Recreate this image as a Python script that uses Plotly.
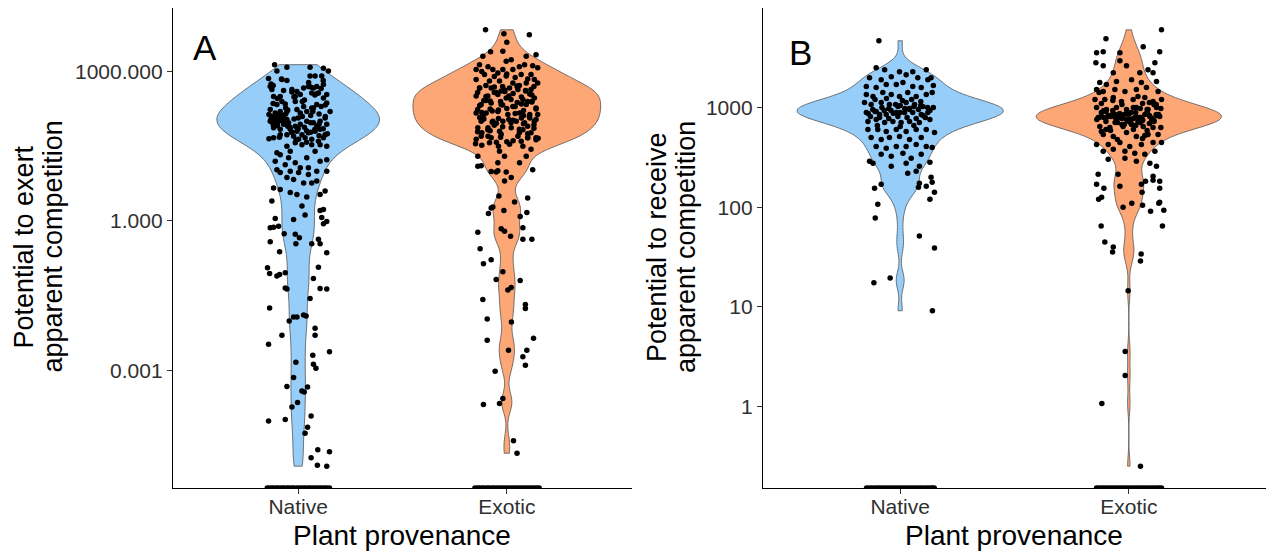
import numpy as np
import plotly.graph_objects as go

W, H = 1271, 551
FONT = "Liberation Sans, Arial, Helvetica, sans-serif"

categories = ["Native", "Exotic"]
native_fill = "#96CDF9"
exotic_fill = "#FDA676"

exert_tick_values = [0.001, 1, 1000]
exert_tick_labels = ["0.001", "1.000", "1000.000"]
receive_tick_values = [1, 10, 100, 1000]
receive_tick_labels = ["1", "10", "100", "1000"]

# ---- Panel A: potential to exert apparent competition (log10 scale) ----
exert_native_log10 = [
    3.14, 3.09, 3.09, 3.07, 3.01,
    3.01, 2.86, 2.84, 2.82, 2.91, 2.91, 2.91,
    2.70, 2.64, 2.64, 2.60, 2.67, 2.70, 2.67, 2.70, 2.74,
    2.50, 2.50, 2.50, 2.54, 2.57, 2.57, 2.54, 2.47,
    2.34, 2.40, 2.35, 2.40, 2.30, 2.27, 2.34, 2.37,
    2.20, 2.24, 2.17, 2.20, 2.20, 2.24, 2.20, 2.27,
    2.10, 2.14, 2.07, 2.10, 2.04, 2.00, 1.97, 2.00,
    1.94, 1.97, 1.87, 1.84, 1.84, 1.90, 1.94, 2.00,
    1.97, 2.00, 2.07, 1.94, 1.80, 1.73, 1.77, 1.80,
    1.84, 1.73, 1.73, 1.73, 1.70, 1.64, 1.67, 1.64,
    1.60, 1.67, 1.67, 1.50, 1.57, 1.53, 1.53, 1.53,
    1.50, 1.40, 1.37, 1.40, 1.33, 1.27, 1.27, 1.20,
    1.23, 1.20, 1.13, 1.17, 1.07, 1.07, 1.00, 1.00,
    1.03, 0.97, 1.00, 0.97, 0.93, 0.87, 0.83, 0.76,
    0.76, 0.80, 0.66, 0.63, 0.57, 0.53, 0.48, 0.53,
    0.60, 0.40,
    2.05, 1.98, 1.92, 2.12, 2.15, 2.02, 2.08, 1.99, 1.90, 1.93,
    1.78, 1.85, 1.88, 1.78, 1.90, 1.85, 2.05, 2.10, 2.12, 2.15,
    2.85, 2.78, 2.72, 2.66, 2.59, 2.53, 2.46, 2.40, 2.33, 2.27,
    2.20, 2.14, 2.07, 2.01, 1.94, 1.88, 1.81, 1.75, 1.68, 1.62,
    2.82, 2.75, 2.69, 2.62, 2.56, 2.49, 2.43, 2.36, 2.30, 2.23,
    2.17, 2.10, 2.04, 1.97, 1.91, 1.84, 1.78, 1.71, 1.65, 1.58,
    0.30, 0.12, 0.21, 0.23,
    0.07, -0.01, -0.06, 0.05,
    -0.14, -0.13, -0.11, 0.03,
    -0.26, -0.27, -0.34, -0.46,
    -0.42, -0.46, -0.37, -0.46,
    -0.64, -0.62,
    -0.94, -1.06, -1.11, -1.08, -1.04, -0.93, -1.16,
    -1.35, -1.37, -1.36, -1.37,
    -1.56, -1.75,
    -1.93, -1.93, -1.89, -1.91, -2.01,
    -2.16, -2.30, -2.30, -2.48,
    -2.63,
    -2.70, -2.84, -2.88, -2.96,
    -3.15, -3.33, -3.34, -3.42, -3.44,
    -3.65, -3.74, -3.92, -4.02, -3.99,
    -4.15, -4.27, -4.60, -4.64,
    -4.76, -4.91, -4.93,
]
exert_native_jitter = [
    -0.113, -0.054, 0.057, 0.121, 0.145,
    -0.102, -0.142, -0.078, -0.054, 0.057, 0.081, 0.113,
    -0.134, -0.126, -0.030, -0.006, 0.026, 0.049, 0.073, 0.089, 0.121,
    -0.118, -0.086, -0.014, 0.010, 0.065, 0.097, 0.137, 0.121,
    -0.102, -0.078, -0.062, -0.014, 0.026, 0.065, 0.089, 0.137,
    0.153, -0.134, -0.110, -0.086, -0.054, -0.006, 0.041, 0.073,
    -0.126, -0.102, -0.086, -0.070, -0.054, -0.134, -0.110, -0.094,
    -0.070, -0.046, -0.118, -0.086, -0.038, -0.014, 0.010, 0.041,
    0.073, 0.105, 0.129, 0.137, -0.006, 0.018, 0.049, 0.081,
    0.105, 0.129, -0.086, -0.054, -0.022, 0.002, 0.033, 0.065,
    0.097, 0.121, -0.118, -0.054, -0.014, 0.018, 0.065, 0.105,
    0.137, -0.038, -0.102, 0.081, -0.086, -0.046, 0.041, 0.105,
    0.137, -0.110, -0.062, -0.014, 0.010, 0.049, 0.089, 0.137,
    -0.102, -0.086, -0.038, 0.002, 0.049, -0.054, -0.022, 0.026,
    0.065, 0.089, -0.118, -0.086, -0.038, -0.006, 0.041, 0.105,
    0.129, -0.126,
    -0.130, -0.120, -0.100, -0.080, -0.060, -0.090, -0.110, -0.070, -0.050, -0.120,
    -0.030, 0.000, 0.030, 0.060, 0.090, 0.120, -0.020, 0.020, 0.060, 0.100,
    -0.080, 0.050, -0.120, 0.110, -0.030, 0.080, -0.100, 0.020, 0.130, -0.060,
    0.070, -0.140, 0.000, -0.110, 0.100, -0.040, 0.040, 0.140, -0.090, -0.010,
    0.120, -0.130, 0.060, -0.070, 0.090, -0.020, 0.030, -0.120, 0.110, -0.050,
    0.010, 0.130, -0.080, 0.060, -0.100, 0.080, -0.030, 0.100, -0.140, 0.040,
    0.018, 0.033, 0.105, 0.121,
    0.113, 0.137, 0.121, -0.110,
    -0.134, -0.118, -0.094, -0.022,
    -0.067, -0.014, 0.006, -0.011,
    -0.134, 0.065, 0.097, 0.105,
    0.137, -0.089,
    -0.147, -0.137, -0.102, -0.089, -0.062, 0.097, 0.073,
    -0.062, -0.054, 0.105, 0.137,
    0.057, -0.137,
    -0.022, -0.006, 0.026, 0.038, -0.043,
    0.081, 0.081, -0.078, -0.142,
    0.150,
    0.070, -0.011, 0.073, 0.085,
    -0.022, -0.054, 0.045, 0.018, 0.029,
    -0.003, -0.030, 0.062, -0.142, -0.062,
    0.045, 0.033, 0.094, 0.150,
    0.062, 0.092, 0.137,
]
# species scoring zero (drawn on the lower edge of the panel)
exert_native_zero_jitter = [-0.148, -0.139, -0.127, -0.118, -0.106, -0.097, -0.085,
                            -0.074, -0.066, -0.053, -0.044, -0.031, -0.022, -0.009,
                            0.003, 0.014, 0.026, 0.035, 0.048, 0.057, 0.069,
                            0.080, 0.091, 0.103, 0.114, 0.126, 0.137, 0.150]

exert_exotic_log10 = [
    3.84, 3.76, 3.74, 3.59,
    3.41, 3.40, 3.31, 3.31, 3.34,
    3.21, 3.24, 3.14, 3.04, 3.04, 3.04, 3.04, 3.14,
    3.12, 3.08, 2.94, 2.97, 2.91, 2.94, 2.94, 2.84,
    2.84, 2.81, 2.81, 2.77, 2.77, 2.77,
    2.67, 2.67, 2.61, 2.67, 2.64, 2.64,
    2.51, 2.51, 2.54, 2.47, 2.44, 2.47,
    2.34, 2.37, 2.34, 2.30, 2.34, 2.27,
    2.17, 2.17, 2.20, 2.14, 2.17, 2.10, 2.14,
    2.00, 2.00, 2.00, 2.00, 1.97, 2.00,
    1.87, 1.83, 1.80, 1.87, 1.83, 1.77,
    1.70, 1.67, 1.74, 1.70, 1.67, 1.67,
    1.64, 1.57, 1.54, 1.60, 1.30, 1.40, 1.30, 1.50, 1.44, 1.30,
    1.17, 1.17,
    3.00, 2.90, 2.88, 2.85, 2.72, 2.70, 2.72, 2.70, 2.58, 2.58, 2.56, 2.55, 2.42, 2.40,
    2.38, 2.40, 2.25, 2.26, 2.22, 2.08, 2.06, 2.07, 2.04, 1.92, 1.90, 2.95, 3.10, 3.10,
    1.52, 1.58, 1.61, 1.67, 1.70, 1.77, 1.79, 1.86, 1.89, 1.95,
    1.98, 2.04, 2.07, 2.14, 2.16, 2.23, 2.25, 2.32, 2.35, 2.41,
    2.44, 2.50, 2.53, 2.60, 2.62, 2.69, 2.71, 1.55, 1.59, 1.66,
    1.68, 1.75, 1.77, 1.84, 1.87, 1.93, 1.96, 2.02, 2.05, 2.12,
    2.14, 2.21, 2.24, 2.30, 2.33, 2.39, 2.42, 2.49, 2.51, 2.58,
    2.61, 2.67, 2.70, 1.50, 1.63, 1.81, 1.97, 2.18, 2.40, 2.63,
    1.10, 1.11, 0.99, 1.01, 0.98, 0.98,
    0.87, 0.80, 1.03, 0.50, 0.38, 0.46,
    0.26, 0.28, 0.21, 0.15, 0.17, 0.09,
    -0.16, -0.21, -0.31, -0.23, -0.14, -0.37, -0.37,
    -0.56, -0.78, -0.86, -1.02, -1.18, -1.20,
    -1.39, -1.34, -1.58, -1.68, -1.76, -1.97, -2.03,
    -2.40, -2.36, -2.60, -2.60, -2.73, -2.90,
    -3.02, -3.57, -3.67, -3.69, -4.42, -4.67,
]
exert_exotic_jitter = [
    -0.102, -0.014, 0.108, 0.000,
    -0.019, -0.078, -0.115, 0.093, 0.140,
    -0.003, 0.021, -0.131, -0.147, -0.067, -0.019, 0.029, 0.085,
    0.124, 0.148, -0.107, -0.043, -0.003, 0.069, 0.116, 0.132,
    -0.147, -0.083, -0.035, 0.029, 0.093, 0.148,
    -0.131, -0.075, -0.027, 0.013, 0.053, 0.116,
    -0.147, -0.091, -0.043, -0.003, 0.077, 0.132,
    -0.123, -0.075, -0.027, 0.029, 0.093, 0.140,
    -0.147, -0.099, -0.043, 0.005, 0.061, 0.108, 0.148,
    -0.123, -0.067, -0.019, 0.045, 0.085, 0.132,
    -0.139, -0.091, -0.035, 0.021, 0.077, 0.116,
    -0.123, -0.075, -0.027, 0.053, 0.100, 0.140,
    -0.147, -0.083, 0.013, 0.069, -0.139, -0.035, -0.011, 0.077, 0.116, 0.093,
    -0.043, 0.061,
    -0.120, -0.060, 0.040, 0.100, -0.100, -0.020, 0.060, 0.130, -0.140, -0.050, 0.030, 0.110, -0.110, -0.030,
    0.050, 0.120, -0.080, 0.000, 0.080, -0.130, -0.040, 0.070, 0.140, -0.060, 0.100, 0.000, -0.090, 0.060,
    -0.120, -0.050, 0.030, 0.100, -0.090, 0.060, -0.140, 0.130, -0.020, 0.080,
    -0.070, 0.010, 0.110, -0.110, 0.040, -0.040, 0.140, -0.130, 0.070, -0.080,
    0.020, -0.100, 0.120, -0.010, 0.090, -0.060, 0.050, -0.150, 0.000, 0.150,
    -0.030, 0.100, -0.120, 0.060, -0.090, 0.130, -0.050, 0.030, -0.110, 0.080,
    0.110, -0.070, -0.140, 0.040, -0.020, 0.120, -0.100, 0.070, 0.010, -0.060,
    0.090, -0.130, 0.050, -0.040, 0.140, -0.080, 0.020, -0.120, 0.100, -0.010,
    -0.139, -0.123, -0.075, -0.043, -0.051, -0.003,
    0.021, -0.011, 0.124, -0.038, 0.037, 0.100,
    -0.075, -0.067, -0.014, -0.088, 0.096, 0.064,
    -0.027, -0.011, 0.018, -0.139, 0.077, 0.077, 0.120,
    -0.128, -0.075, -0.112, -0.019, -0.051, 0.064,
    0.005, 0.021, -0.115, 0.089, 0.089, -0.094, 0.022,
    -0.094, 0.128, 0.008, 0.096, 0.077, 0.089,
    -0.056, -0.019, -0.035, -0.112, 0.032, 0.049,
]
exert_exotic_zero_jitter = [-0.153, -0.141, -0.131, -0.119, -0.108, -0.095, -0.086,
                            -0.073, -0.062, -0.051, -0.040, -0.028, -0.017, -0.005,
                            0.006, 0.018, 0.029, 0.041, 0.052, 0.064, 0.075,
                            0.087, 0.098, 0.110, 0.121, 0.133, 0.144, 0.155]

# ---- Panel B: potential to receive apparent competition (log10 scale) ----
receive_native_log10 = [
    3.67,
    3.40, 3.38, 3.36, 3.36, 3.38,
    3.30, 3.28, 3.31, 3.33, 3.30, 3.28,
    3.21, 3.20, 3.23, 3.23, 3.25, 3.21, 3.20,
    3.13, 3.11, 3.15, 3.13, 3.11, 3.15, 3.11, 3.13,
    3.05, 3.03, 3.05, 3.03, 3.01, 3.05, 3.03, 3.01,
    2.95, 2.96, 2.93, 2.95, 2.95, 2.95, 2.93, 2.95,
    2.86, 2.88, 2.85, 2.86, 2.85, 2.86, 2.85,
    2.78, 2.78, 2.76, 2.78, 2.76, 2.78, 2.78,
    2.70, 2.68, 2.70, 2.71, 2.68, 2.70,
    2.61, 2.59, 2.61, 2.61, 2.63, 2.61,
    2.46, 2.53, 2.51, 2.54, 2.49, 2.53,
    2.44, 2.41, 2.44, 2.41, 2.34, 2.36,
    2.23, 2.19, 2.24, 2.21,
    3.30, 3.15, 3.00, 2.88, 2.75, 2.60, 2.45, 3.22, 2.30,
    2.98, 3.00, 2.97, 3.02, 2.99, 2.98, 2.91, 2.90, 2.89, 2.91, 2.90,
    2.89, 2.90, 3.08, 3.09, 3.07, 3.08, 3.06, 2.82, 2.81, 2.82,
    2.97, 2.94, 2.99, 3.01, 2.92, 2.96, 3.03, 2.98, 2.93, 3.00, 2.95, 2.99, 3.02, 2.97, 2.94,
    2.03, 1.89, 1.24, 1.29, 1.71, 2.20,
    0.96, 1.59, 2.25, 2.15, 2.08,
]
receive_native_jitter = [
    -0.093,
    -0.105, -0.068, -0.003, 0.055, 0.114,
    -0.134, -0.083, -0.039, 0.026, 0.077, 0.121,
    -0.148, -0.105, -0.061, -0.017, 0.012, 0.055, 0.092,
    -0.148, -0.119, -0.076, -0.039, -0.003, 0.033, 0.070, 0.114,
    -0.156, -0.127, -0.083, -0.047, -0.010, 0.026, 0.063, 0.099,
    -0.148, -0.105, -0.061, -0.017, 0.019, 0.055, 0.092, 0.121,
    -0.141, -0.105, -0.068, -0.032, 0.004, 0.041, 0.084,
    -0.141, -0.098, -0.061, -0.017, 0.026, 0.070, 0.114,
    -0.127, -0.083, -0.047, -0.003, 0.041, 0.092,
    -0.105, -0.061, -0.017, 0.026, 0.070, 0.114,
    -0.134, -0.083, -0.039, 0.012, 0.048, 0.092,
    -0.119, -0.039, 0.026, 0.084, 0.033, 0.070,
    -0.083, -0.112, 0.084, 0.114,
    0.135, 0.140, 0.145, 0.130, 0.150, 0.140, 0.130, 0.145, 0.135,
    -0.120, -0.080, -0.040, 0.000, 0.040, 0.080, -0.130, -0.090, -0.050, -0.010, 0.030,
    0.070, 0.110, -0.110, -0.060, 0.010, 0.050, 0.090, -0.100, 0.000, 0.060,
    -0.070, -0.030, 0.020, 0.060, 0.100, -0.110, -0.020, 0.040, -0.090, 0.120, 0.000, -0.050, 0.090, 0.130, -0.140,
    -0.098, -0.109, -0.115, -0.044, 0.084, 0.080,
    0.141, 0.150, 0.140, 0.150, 0.130,
]
receive_native_zero_jitter = [-0.147, -0.136, -0.124, -0.113, -0.101, -0.092, -0.080,
                              -0.069, -0.058, -0.046, -0.035, -0.024, -0.013, -0.002,
                              0.009, 0.021, 0.032, 0.043, 0.054, 0.066, 0.077,
                              0.088, 0.099, 0.111, 0.122, 0.133, 0.141, 0.149]

receive_exotic_log10 = [
    3.78, 3.69, 3.61, 3.56, 3.55, 3.56, 3.55,
    3.45, 3.42, 3.47, 3.45, 3.38, 3.35, 3.42, 3.35, 3.35,
    3.25, 3.23, 3.26, 3.28, 3.25, 3.26,
    3.18, 3.16, 3.18, 3.16, 3.18, 3.20, 3.16,
    3.08, 3.08, 3.10, 3.06, 3.08, 3.10, 3.06, 3.08,
    3.00, 2.98, 3.00, 2.98, 3.00, 2.98, 3.00,
    2.90, 2.91, 2.90, 2.88, 2.90, 2.91, 2.91,
    2.81, 2.80, 2.81, 2.83, 2.81, 2.80,
    2.73, 2.71, 2.75, 2.71, 2.73, 2.73,
    2.63, 2.63, 2.65, 2.61, 2.63, 2.65, 2.65,
    2.56, 2.58, 2.56, 2.54, 2.53, 2.56,
    2.48, 2.49, 2.46, 2.44, 2.41,
    2.33, 2.33, 2.31, 2.23, 2.21, 2.23, 2.26,
    2.95, 2.94, 2.93, 2.95, 2.94, 2.93, 2.86, 2.85, 2.86, 2.85,
    2.86, 3.04, 3.03, 3.04, 3.03, 2.77, 2.78, 2.77, 2.68, 2.69,
    2.92, 2.90, 2.89, 2.93, 2.91, 2.88, 2.92, 2.90, 2.87, 2.94,
    2.89, 2.91, 2.93, 2.88, 2.90, 2.86, 2.95, 2.92, 2.89, 2.84,
    2.97, 2.99, 2.83, 2.82, 2.96, 2.87, 2.93, 2.91, 2.85, 2.98,
    2.72, 2.76, 2.80, 2.83, 2.86, 2.88, 2.90, 2.91, 2.92, 2.93,
    2.95, 2.97, 3.00, 3.03, 3.07, 3.11, 3.15, 2.89, 2.94, 2.87,
    2.78, 2.99, 2.91, 3.05, 2.84,
    2.19, 2.15, 2.26, 2.27, 2.19,
    2.08, 2.10, 2.00, 2.04, 2.02, 1.96, 2.04, 2.05, 1.97,
    1.81, 1.81, 1.65, 1.60, 1.55, 1.53, 1.46, 1.16,
    0.55, 0.31, 0.03, -0.60,
]
receive_exotic_jitter = [
    0.143, -0.100, 0.063, 0.135, -0.141, -0.112, -0.039,
    -0.144, -0.112, -0.039, 0.114, 0.084, -0.068, -0.010, 0.048, 0.106,
    -0.127, -0.098, -0.054, 0.012, 0.055, 0.121,
    -0.141, -0.112, -0.061, -0.017, 0.033, 0.077, 0.128,
    -0.148, -0.105, -0.068, -0.032, 0.019, 0.070, 0.106, 0.143,
    -0.141, -0.098, -0.054, -0.010, 0.033, 0.084, 0.121,
    -0.134, -0.090, -0.039, 0.004, 0.048, 0.092, 0.135,
    -0.127, -0.083, -0.025, 0.012, 0.063, 0.106,
    -0.112, -0.068, -0.010, 0.033, 0.084, 0.128,
    -0.141, -0.090, -0.039, 0.004, 0.055, 0.106, 0.143,
    -0.112, -0.068, -0.017, 0.026, 0.070, 0.114,
    -0.090, -0.017, 0.033, 0.092, 0.121,
    -0.134, -0.047, 0.106, -0.141, -0.039, 0.055, 0.135,
    -0.120, -0.070, -0.020, 0.030, 0.080, 0.120, -0.100, -0.050, 0.000, 0.050,
    0.100, -0.120, -0.030, 0.060, 0.110, -0.080, 0.020, 0.080, -0.050, 0.060,
    -0.090, -0.060, -0.030, 0.000, 0.030, 0.060, 0.090, -0.110, 0.110, -0.040,
    0.020, -0.080, 0.070, -0.010, -0.130, 0.040, 0.010, 0.120, -0.050, 0.090,
    -0.070, 0.050, -0.020, 0.030, -0.100, 0.100, 0.130, -0.120, -0.060, 0.080,
    0.070, -0.120, 0.140, -0.030, 0.110, -0.140, 0.050, -0.090, 0.130, -0.060,
    0.080, -0.110, 0.020, 0.120, -0.070, 0.040, -0.130, 0.100, -0.010, 0.060,
    -0.100, 0.140, -0.050, 0.090, 0.010,
    -0.109, 0.058, 0.073, 0.106, 0.135,
    -0.132, -0.119, -0.025, 0.013, 0.060, 0.095, 0.131, 0.135, 0.153,
    -0.121, 0.147, -0.105, -0.068, -0.071, 0.054, 0.051, -0.003,
    -0.016, -0.016, -0.118, 0.051,
]
receive_exotic_zero_jitter = [-0.141, -0.131, -0.120, -0.110, -0.099, -0.088, -0.078,
                              -0.067, -0.056, -0.045, -0.035, -0.024, -0.013, -0.003,
                              0.008, 0.019, 0.030, 0.040, 0.051, 0.062, 0.072,
                              0.083, 0.094, 0.105, 0.115, 0.126, 0.135, 0.143]

# kernel bandwidths (log10 units) and maximal widths of the four violins
violin_bandwidths = [[0.33, 0.20], [0.09, 0.10]]
violin_widths = [[0.78, 0.90], [0.90, 0.81]]


def padded_range(*groups):
    allv = np.concatenate([np.asarray(g, dtype=float) for g in groups])
    lo, hi = allv.min(), allv.max()
    pad = 0.05 * (hi - lo)
    return [lo - pad, hi + pad]


panels = [
    dict(xa="x", ya="y",
         groups=[(exert_native_log10, exert_native_jitter, exert_native_zero_jitter, native_fill),
                 (exert_exotic_log10, exert_exotic_jitter, exert_exotic_zero_jitter, exotic_fill)]),
    dict(xa="x2", ya="y2",
         groups=[(receive_native_log10, receive_native_jitter, receive_native_zero_jitter, native_fill),
                 (receive_exotic_log10, receive_exotic_jitter, receive_exotic_zero_jitter, exotic_fill)]),
]

fig = go.Figure()
yranges = []
for pi, p in enumerate(panels):
    yr = padded_range(*[g[0] for g in p["groups"]])
    yranges.append(yr)
    for pos, (vals, jit, zeros, fill) in enumerate(p["groups"]):
        fig.add_trace(go.Violin(
            x0=pos, y=vals, xaxis=p["xa"], yaxis=p["ya"],
            width=violin_widths[pi][pos], scalemode="width", spanmode="hard",
            bandwidth=violin_bandwidths[pi][pos], points=False,
            fillcolor=fill, opacity=1,
            line=dict(color="#555555", width=0.8),
            box_visible=False, meanline_visible=False,
            showlegend=False, hoverinfo="skip",
        ))
        fig.add_trace(go.Scatter(
            x=pos + np.asarray(jit), y=vals, xaxis=p["xa"], yaxis=p["ya"],
            mode="markers", marker=dict(color="black", size=5.5, line_width=0),
            showlegend=False, hoverinfo="skip",
        ))
        fig.add_trace(go.Scatter(
            x=pos + np.asarray(zeros), y=[yr[0]] * len(zeros),
            xaxis=p["xa"], yaxis=p["ya"], cliponaxis=True,
            mode="markers", marker=dict(color="black", size=5.5, line_width=0),
            showlegend=False, hoverinfo="skip",
        ))

axis_common = dict(
    showline=True, linecolor="black", linewidth=1.4,
    ticks="outside", ticklen=5, tickwidth=1.2, tickcolor="#333333",
    showgrid=False, zeroline=False,
    tickfont=dict(family=FONT, size=21, color="#303030"),
)

y_dom = [1 - 488 / H, 1 - 8 / H]
fig.update_layout(
    width=W, height=H,
    margin=dict(l=0, r=0, t=0, b=0),
    paper_bgcolor="white", plot_bgcolor="white",
    violinmode="overlay", violingap=0,
    font=dict(family=FONT, color="black"),
    xaxis=dict(domain=[173 / W, 632 / W], range=[-0.6, 1.6], anchor="y",
               tickvals=[0, 1], ticktext=categories, ticklabelstandoff=-5, **axis_common),
    yaxis=dict(domain=y_dom, range=yranges[0], anchor="x",
               tickvals=np.log10(exert_tick_values), ticktext=exert_tick_labels, **axis_common),
    xaxis2=dict(domain=[763 / W, 1266 / W], range=[-0.6, 1.6], anchor="y2",
                tickvals=[0, 1], ticktext=categories, ticklabelstandoff=-5, **axis_common),
    yaxis2=dict(domain=y_dom, range=yranges[1], anchor="x2",
                tickvals=np.log10(receive_tick_values), ticktext=receive_tick_labels, **axis_common),
)


def label(text, px, py, size, angle=0):
    fig.add_annotation(text=text, x=px / W, y=1 - py / H, xref="paper", yref="paper",
                       xanchor="center", yanchor="middle", showarrow=False,
                       textangle=angle, font=dict(family=FONT, size=size, color="black"))


label("A", 205, 47, 35)
label("B", 800, 52, 35)
label("Potential to exert", 23.5, 247, 27, -90)
label("apparent competition", 52.5, 247, 27, -90)
label("Potential to receive", 657, 247, 27, -90)
label("apparent competition", 686, 247, 27, -90)
label("Plant provenance", 402, 535, 28)
label("Plant provenance", 1014, 535, 28)

fig.write_html("out.html")
